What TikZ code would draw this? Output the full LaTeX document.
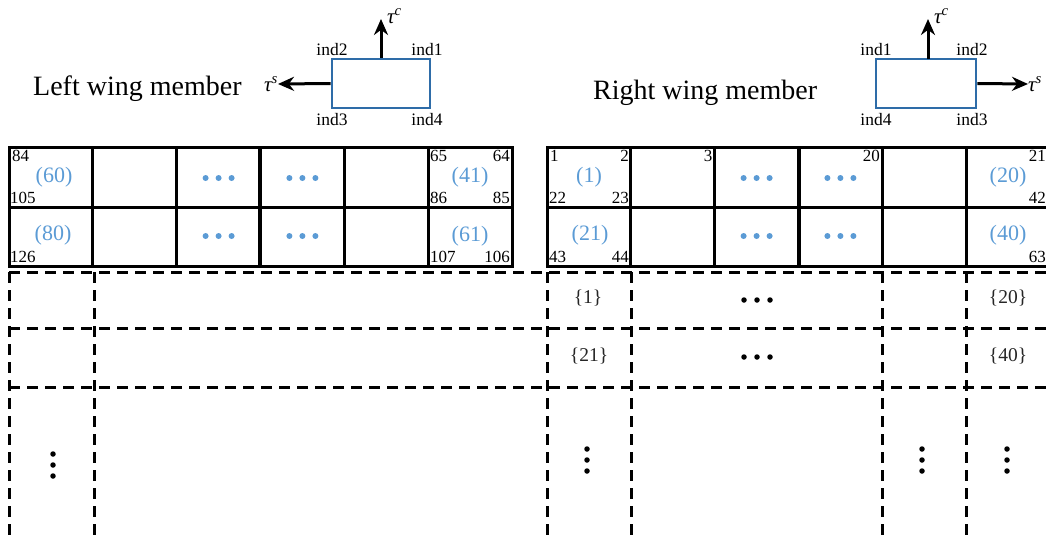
\documentclass[tikz,border=0pt]{standalone}
\usepackage{fontspec}
\setmainfont{Liberation Serif}
\usetikzlibrary{arrows.meta}
\definecolor{cellblue}{RGB}{91,155,213}
\definecolor{boxblue}{RGB}{46,108,168}
\begin{document}
\begin{tikzpicture}[x=1pt,y=-1pt,
  titletext/.style={font=\fontsize{28}{30}\selectfont, inner sep=0pt},
  indtext/.style={font=\fontsize{17.5}{19}\selectfont, inner sep=0pt},
  memberbox/.style={draw=boxblue, line width=2.6pt, minimum width=98pt, minimum height=49pt, inner sep=0pt},
  force/.style={-{Stealth[length=16pt,width=14pt]}, line width=3pt},
  tautext/.style={font=\fontsize{21}{23}\selectfont\itshape, inner sep=0pt},
  gridline/.style={line width=3pt},
  midline/.style={line width=4pt},
  dashline/.style={line width=3pt, dash pattern=on 11pt off 7pt},
  elem/.style={text=cellblue, font=\fontsize{22}{24}\selectfont, inner sep=0pt},
  corner/.style={font=\fontsize{17}{19}\selectfont, inner sep=2pt},
  settext/.style={font=\fontsize{19.5}{21}\selectfont, inner sep=0pt, text=black!85},
  bdot/.style={circle, fill=cellblue, inner sep=0pt, minimum size=6pt},
  kdot/.style={circle, fill=black, inner sep=0pt, minimum size=5.5pt}
]
\useasboundingbox (0,0) rectangle (1046,541);
\clip (0,0) rectangle (1046,541);

% ---------- titles ----------
\node[titletext, anchor=base west] (ltitle) at (33,95) {Left wing member};
\node[titletext, anchor=base west] (rtitle) at (593,99) {Right wing member};

% ---------- left icon ----------
\node[memberbox] (lbox) at (381,83.5) {};
\coordinate (ltctip) at (381,19);
\draw[force] (lbox.north) -- (ltctip);
\node[tautext, anchor=west] (ltc) at (387,16) {τ\textsuperscript{c}};
\node[tautext, anchor=east] (lts) at (278,84) {τ\textsuperscript{s}};
\draw[force] (lbox.west) -- (lts.east);
\node[indtext, anchor=base] (lind2) at (332,55) {ind2};
\node[indtext, anchor=base] (lind1) at (427,55) {ind1};
\node[indtext, anchor=base] (lind3) at (332,125) {ind3};
\node[indtext, anchor=base] (lind4) at (427,125) {ind4};

% ---------- right icon ----------
\node[memberbox, minimum width=100pt] (rbox) at (926,83.5) {};
\coordinate (rtcbase) at (928,59);
\coordinate (rtctip) at (928,19);
\draw[force] (rtcbase) -- (rtctip);
\node[tautext, anchor=west] (rtc) at (934,16) {τ\textsuperscript{c}};
\node[tautext, anchor=west] (rts) at (1028,84) {τ\textsuperscript{s}};
\draw[force] (rbox.east) -- (rts.west);
\node[indtext, anchor=base] (rind1) at (876,55) {ind1};
\node[indtext, anchor=base] (rind2) at (972,55) {ind2};
\node[indtext, anchor=base] (rind4) at (876,125) {ind4};
\node[indtext, anchor=base] (rind3) at (972,125) {ind3};

% ---------- left grid ----------
\draw[gridline] (9,147) rectangle (512,266);
\draw[gridline] (9,207) -- (512,207);
\foreach \k in {1,2,4,5}{
  \draw[gridline] ({9+83.83*\k},147) -- ({9+83.83*\k},266);
}
\draw[midline] ({9+83.83*3},147) -- ({9+83.83*3},266);

% ---------- right grid ----------
\draw[gridline] (547,147) rectangle (1052,266);
\draw[gridline] (547,207) -- (1052,207);
\foreach \k in {1,2,4,5}{
  \draw[gridline] ({547+83.83*\k},147) -- ({547+83.83*\k},266);
}
\draw[midline] ({547+83.83*3},147) -- ({547+83.83*3},266);

% left grid texts
\node[elem] (e60) at (54,177) {(60)};
\node[elem] (e80) at (53,235) {(80)};
\node[corner, anchor=north west] (n84) at (10,148) {84};
\node[corner, anchor=south west] (n105) at (8,206) {105};
\node[corner, anchor=south west] (n126) at (8,265) {126};
\node[elem] (e41) at (470,177) {(41)};
\node[elem] (e61) at (470,236) {(61)};
\node[corner, anchor=north west] (n65) at (428,148) {65};
\node[corner, anchor=north east] (n64) at (512,148) {64};
\node[corner, anchor=south west] (n86) at (428,206) {86};
\node[corner, anchor=south east] (n85) at (512,206) {85};
\node[corner, anchor=south west] (n107) at (428,265) {107};
\node[corner, anchor=south east] (n106) at (512,265) {106};

% right grid texts
\node[elem] (e1) at (589,177) {(1)};
\node[elem] (e21) at (590,235) {(21)};
\node[corner, anchor=north west] (n1) at (548,148) {1};
\node[corner, anchor=north east] (n2) at (631,148) {2};
\node[corner, anchor=south west] (n22) at (547,206) {22};
\node[corner, anchor=south east] (n23) at (631,206) {23};
\node[corner, anchor=south west] (n43) at (547,265) {43};
\node[corner, anchor=south east] (n44) at (631,265) {44};
\node[corner, anchor=north east] (n3) at (714.5,148) {3};
\node[corner, anchor=north east] (n20) at (882,148) {20};
\node[elem] (e20) at (1008,177) {(20)};
\node[elem] (e40) at (1008,235) {(40)};
\node[corner, anchor=north east, inner sep=0pt] (n21) at (1046,150) {21};
\node[corner, anchor=south east, inner sep=0pt] (n42) at (1046,204) {42};
\node[corner, anchor=south east, inner sep=0pt] (n63) at (1046,263) {63};

% blue ellipses in cells
\foreach \cx [count=\c] in {218.6,302.4,756.6,840.4}{
  \foreach \cy [count=\r] in {178,236}{
    \foreach \d [count=\j] in {-13,0,13}{
      \node[bdot] (bd\c-\r-\j) at ({\cx+\d},\cy) {};
    }
  }
}

% ---------- dashed section ----------
\foreach \yy in {272,328,387}{
  \draw[dashline] (9,\yy) -- (1046,\yy);
}
\foreach \xx in {9,94,547,631,882,966}{
  \draw[dashline] (\xx,272) -- (\xx,541);
}
\node[settext] (s1) at (588,298) {\{1\}};
\node[settext] (s21) at (589,356) {\{21\}};
\node[settext] (s20) at (1008,298) {\{20\}};
\node[settext] (s40) at (1008,356) {\{40\}};
\foreach \cy [count=\r] in {300,357}{
  \foreach \d [count=\j] in {-13,0,13}{
    \node[kdot] (kd\r-\j) at ({757+\d},\cy) {};
  }
}
\foreach \d [count=\j] in {0,11,22}{
  \node[kdot] (vl\j) at (53,{454+\d}) {};
  \node[kdot] (va\j) at (587,{449+\d}) {};
  \node[kdot] (vb\j) at (922,{449+\d}) {};
  \node[kdot] (vc\j) at (1007,{449+\d}) {};
}
\end{tikzpicture}
\end{document}
